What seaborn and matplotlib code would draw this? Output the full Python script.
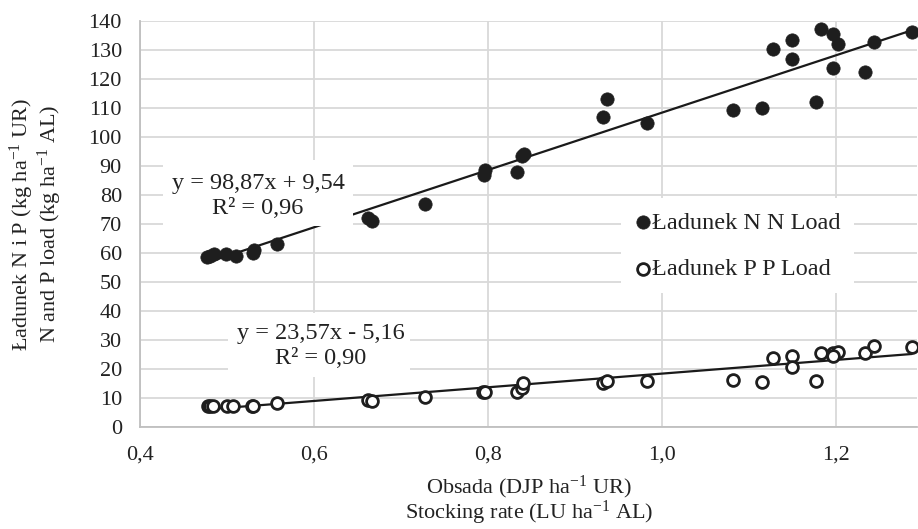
import numpy as np
import pandas as pd
import matplotlib
matplotlib.use("Agg")
import matplotlib.pyplot as plt
from matplotlib.ticker import FuncFormatter, MultipleLocator
from matplotlib.patches import Rectangle
import seaborn as sns

# ---- data ----
n_x = [0.477, 0.481, 0.485, 0.499, 0.510, 0.530, 0.531, 0.558, 0.662, 0.667,
       0.728, 0.795, 0.797, 0.833, 0.839, 0.841, 0.932, 0.937, 0.983, 1.082,
       1.115, 1.128, 1.149, 1.149, 1.177, 1.183, 1.197, 1.202, 1.197, 1.233,
       1.244, 1.287]
n_y = [58.5, 59.0, 59.5, 59.5, 59.0, 60.0, 61.0, 63.2, 72.1, 71.0,
       76.9, 86.8, 88.5, 87.8, 93.5, 94.3, 106.9, 113.2, 104.8, 109.3,
       110.0, 130.5, 133.3, 127.0, 112.2, 137.2, 135.5, 132.0, 123.8, 122.3,
       132.8, 136.2]
p_x = [0.478, 0.481, 0.484, 0.500, 0.507, 0.529, 0.530, 0.557, 0.662, 0.667,
       0.728, 0.794, 0.797, 0.833, 0.839, 0.840, 0.932, 0.937, 0.983, 1.082,
       1.115, 1.128, 1.149, 1.149, 1.177, 1.183, 1.197, 1.202, 1.197, 1.233,
       1.244, 1.287]
p_y = [7.2, 7.4, 7.2, 7.2, 7.3, 7.2, 7.4, 8.3, 9.3, 9.0,
       10.3, 12.1, 12.1, 12.1, 13.4, 15.2, 15.2, 15.9, 15.9, 16.2,
       15.5, 23.8, 24.5, 20.7, 15.9, 25.5, 25.5, 25.9, 24.5, 25.5,
       27.9, 27.6]

n_fit = (98.87, 9.54)   # slope, intercept
p_fit = (23.57, -5.16)
n_eq = ["y = 98,87x + 9,54", "R² = 0,96"]
p_eq = ["y = 23,57x - 5,16", "R² = 0,90"]
series_labels = ["Ładunek N N Load", "Ładunek P P Load"]
x_ticks = [0.4, 0.6, 0.8, 1.0, 1.2]
xlabel_lines = ["Obsada (DJP ha$^{-1}$ UR)", "Stocking rate (LU ha$^{-1}$ AL)"]
ylabel_lines = ["Ładunek N i P (kg ha$^{-1}$ UR)", "N and P load (kg ha$^{-1}$ AL)"]

# ---- style ----
sns.set_theme(style="white")
plt.rcParams["font.family"] = ["Liberation Serif", "DejaVu Serif"]
plt.rcParams["mathtext.fontset"] = "custom"
plt.rcParams["mathtext.rm"] = "Liberation Serif"
plt.rcParams["mathtext.it"] = "Liberation Serif:italic"
plt.rcParams["mathtext.bf"] = "Liberation Serif:bold"
FS = 16
FS_L = 17.5
FS_AX = 16
TXT = "#222222"
W, H = 918, 529

fig = plt.figure(figsize=(W / 100, H / 100), dpi=100)
ax = fig.add_axes([140 / W, 1 - 427 / H, (917 - 140) / W, (427 - 21) / H])

df_n = pd.DataFrame({"x": n_x, "y": n_y})
df_p = pd.DataFrame({"x": p_x, "y": p_y})

# trendlines
for df, (a, b) in ((df_n, n_fit), (df_p, p_fit)):
    xs = np.array([df["x"].min(), df["x"].max()])
    sns.lineplot(x=xs, y=a * xs + b, ax=ax, color="#1a1a1a", lw=1.6, zorder=3)

sns.scatterplot(data=df_n, x="x", y="y", ax=ax, s=92, color="#1e1e1e",
                edgecolor="#1e1e1e", linewidth=0.5, zorder=4, label=series_labels[0])
sns.scatterplot(data=df_p, x="x", y="y", ax=ax, s=72, facecolor="white",
                edgecolor="#1e1e1e", linewidth=2.0, zorder=4, label=series_labels[1])

# axes
ax.set_xlim(0.4, 1.293)
ax.set_ylim(0, 140)
ax.set_xticks(x_ticks)
ax.yaxis.set_major_locator(MultipleLocator(10))
ax.xaxis.set_major_formatter(FuncFormatter(lambda v, p: f"{v:.1f}".replace(".", ",")))
ax.grid(True, color="#d9d9d9", lw=1.3)
ax.set_axisbelow(True)
for s in ("top", "right"):
    ax.spines[s].set_visible(False)
for s in ("left", "bottom"):
    ax.spines[s].set_color("#bfbfbf")
    ax.spines[s].set_linewidth(1.3)
ax.tick_params(axis="both", length=0, labelsize=FS, colors=TXT, pad=13)
ax.set_xlabel("")
ax.set_ylabel("")

# axis titles (two lines each)
fig.text(529 / W, 1 - 487 / H, xlabel_lines[0], ha="center", va="center",
         fontsize=FS_AX, color=TXT)
fig.text(529 / W, 1 - 513 / H, xlabel_lines[1], ha="center", va="center",
         fontsize=FS_AX, color=TXT)
fig.text(22 / W, 1 - 224 / H, ylabel_lines[0], ha="center", va="center",
         rotation=90, fontsize=FS_AX, color=TXT)
fig.text(50 / W, 1 - 224 / H, ylabel_lines[1], ha="center", va="center",
         rotation=90, fontsize=FS_AX, color=TXT)

# equation labels with white boxes
def label_box(x0, x1, y0, y1, lines, cx, cy1, cy2):
    ax.add_patch(Rectangle((x0 / W, 1 - y1 / H), (x1 - x0) / W, (y1 - y0) / H,
                           transform=fig.transFigure, facecolor="white",
                           edgecolor="none", zorder=5))
    fig.text(cx / W, 1 - cy1 / H, lines[0], ha="center", va="center",
             fontsize=FS_L, color=TXT, zorder=6)
    fig.text(cx / W, 1 - cy2 / H, lines[1], ha="center", va="center",
             fontsize=FS_L, color=TXT, zorder=6)

label_box(163, 353, 160, 226, n_eq, 258, 184, 209)
label_box(228, 410, 313, 377, p_eq, 321, 334, 359)

leg = ax.legend(loc="center", bbox_to_anchor=(0.769, 0.446), fontsize=FS_L,
                frameon=True, fancybox=False, edgecolor="none", facecolor="white",
                framealpha=1, handletextpad=0.0, handlelength=0.7,
                labelspacing=1.0, borderpad=0.55)
for t in leg.get_texts():
    t.set_color(TXT)
leg.set_zorder(7)

fig.savefig("out.png", dpi=100)
